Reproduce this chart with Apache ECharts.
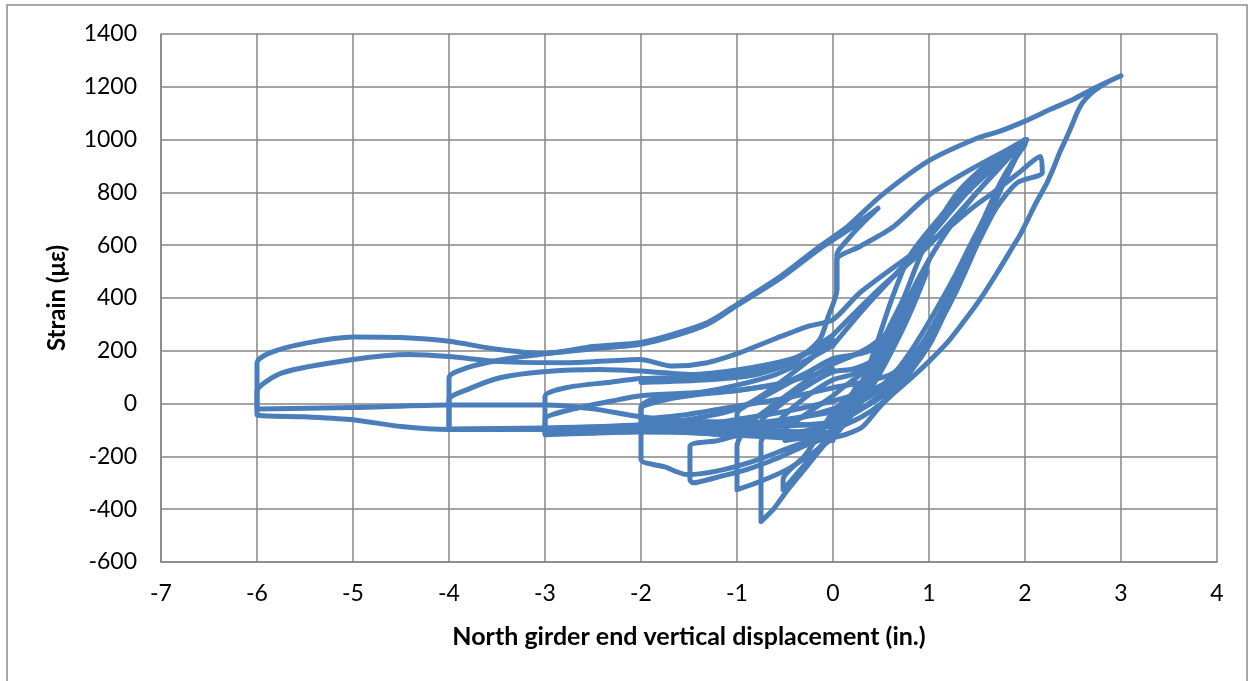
<!DOCTYPE html>
<html>
<head>
<meta charset="utf-8">
<script src="https://cdn.jsdelivr.net/npm/echarts@6/dist/echarts.min.js"></script>
<style>
html,body{margin:0;padding:0;background:#fff;}
#chart{width:1250px;height:681px;}
</style>
</head>
<body>
<div id="chart"></div>
<script>
// Axis ticks
const xTicks = [-7,-6,-5,-4,-3,-2,-1,0,1,2,3,4];
const yTicks = [-600,-400,-200,0,200,400,600,800,1000,1200,1400];

// Cycles: [displacement (in.), strain (με)]
const cyc025a = [[0,-95],[0.12,-40],[0.25,40],[0.2,10],[0.1,-30],[0,-60],[-0.12,-100],[-0.25,-150],[-0.15,-130],[0,-100]];
const cyc025b = [[0,-100],[0.1,-50],[0.25,70],[0.15,10],[0,-45],[-0.1,-90],[-0.25,-125],[-0.12,-115],[0,-105]];
const cyc050a = [[0,-100],[0.15,-30],[0.3,50],[0.45,140],[0.5,180],[0.42,130],[0.3,70],[0.15,20],[0,-30],[-0.15,-120],[-0.3,-200],[-0.52,-288],[-0.52,-326],[-0.35,-255],[-0.15,-170],[0,-110]];
const cyc050b = [[0,-110],[0.15,-40],[0.3,40],[0.5,200],[0.4,150],[0.25,100],[0.1,60],[0,30],[-0.2,-20],[-0.4,-70],[-0.5,-100],[-0.5,-140],[-0.3,-130],[0,-115]];
const cyc075a = [[0,-110],[0.15,-30],[0.3,60],[0.45,150],[0.6,250],[0.75,356],[0.68,290],[0.55,210],[0.4,150],[0.2,110],[0,90],[-0.3,20],[-0.55,-60],[-0.75,-148],[-0.75,-447],[-0.62,-400],[-0.5,-340],[-0.3,-250],[-0.1,-160],[0,-120]];
const cyc075b = [[0,-120],[0.2,-20],[0.4,110],[0.6,240],[0.75,340],[0.6,230],[0.4,160],[0.2,130],[0,120],[-0.3,60],[-0.6,-20],[-0.75,-70],[-0.75,-120],[-0.5,-125],[-0.2,-120],[0,-110]];
const cyc100a = [[0,-120],[0.2,-20],[0.4,90],[0.6,220],[0.8,370],[1.0,545],[0.93,470],[0.8,380],[0.6,280],[0.4,220],[0.2,180],[0,150],[-0.3,80],[-0.6,0],[-0.85,-70],[-1.0,-162],[-1.0,-326],[-0.76,-295],[-0.48,-250],[-0.21,-186],[0,-130]];
const cyc100b = [[0,-130],[0.2,-40],[0.4,60],[0.6,190],[0.8,340],[0.98,500],[0.88,410],[0.75,310],[0.55,230],[0.3,190],[0,170],[-0.3,110],[-0.7,30],[-1.0,-40],[-1.0,-110],[-0.7,-120],[-0.3,-115],[0,-110]];
const cycP2N15 = [[0,-110],[0.3,80],[0.6,300],[0.73,394],[0.96,600],[1.3,800],[1.65,920],[2,1000],[1.8,860],[1.6,720],[1.43,600],[1.25,470],[1.05,340],[0.85,220],[0.65,120],[0.45,50],[0.25,10],[0,-20],[-0.4,-60],[-0.8,-100],[-1.2,-140],[-1.49,-162],[-1.49,-288],[-1.46,-300],[-1.2,-278],[-0.9,-250],[-0.6,-210],[-0.3,-160],[0,-120]];
const cycP2N2a = [[0,-120],[0.35,120],[0.61,394],[0.8,560],[1.1,700],[1.5,860],[2,985],[1.9,930],[1.77,830],[1.6,690],[1.45,560],[1.29,430],[1.1,300],[0.9,190],[0.7,110],[0.45,60],[0.2,30],[0,10],[-0.5,-30],[-1.0,-60],[-1.5,-90],[-2,-110],[-2,-212],[-1.75,-240],[-1.52,-269],[-1.2,-255],[-0.8,-215],[-0.4,-160],[0,-115]];
const cycP2N2b = [[0,-115],[0.3,40],[0.6,260],[0.9,480],[1.2,660],[1.5,800],[1.75,900],[2,1000],[1.85,900],[1.7,790],[1.55,660],[1.4,530],[1.2,380],[1.0,260],[0.8,170],[0.6,110],[0.3,80],[0,60],[-0.5,20],[-1,-10],[-1.5,-40],[-2,-60],[-2,-11],[-1.83,23],[-1.39,42],[-1,70],[-0.6,110],[-0.3,160],[0,220]];
const cycP2N3 = [[0,220],[0.3,350],[0.6,470],[1.0,630],[1.4,800],[1.7,900],[2,980],[1.88,920],[1.75,840],[1.62,740],[1.5,640],[1.35,520],[1.2,400],[1.0,270],[0.8,160],[0.55,70],[0.3,10],[0,-30],[-0.5,-60],[-1,-80],[-1.5,-85],[-2,-90],[-2.5,-95],[-3,-98],[-3,27],[-2.77,61],[-2.35,80],[-2,95],[-1.5,100],[-1,110],[-0.6,140],[-0.3,190],[0,260]];
const cycP2N4a = [[0,260],[0.5,440],[1.0,600],[1.5,800],[2,1000],[1.85,890],[1.68,760],[1.5,620],[1.3,470],[1.1,330],[0.9,200],[0.7,100],[0.45,20],[0.2,-40],[0,-70],[-0.5,-85],[-1,-90],[-2,-95],[-3,-97],[-4,-98],[-4,15],[-3.81,53],[-3.47,98],[-3.02,121],[-2.43,129],[-1.9,121],[-1.49,110],[-0.97,129],[-0.45,167],[-0.1,216],[0,240]];
const cycP05N4b = [[0,240],[-0.3,150],[-0.7,40],[-1,-20],[-1.5,-60],[-2,-80],[-3,-92],[-4,-96],[-4,98],[-3.81,136],[-3.47,165],[-3.02,188],[-2.5,208],[-2,225],[-1.6,262],[-1.3,302],[-1,372],[-0.55,474],[-0.14,586],[0.15,656],[0.47,740],[0.3,680],[0.15,620],[0.04,565],[0.04,430],[-0.05,330],[-0.14,242],[-0.4,160],[-0.8,110],[-1.3,90],[-2,80]];
const cycP3N6a = [[0,-110],[-1,-100],[-2,-95],[-3,-97],[-4,-98],[-4.5,-87],[-5,-61],[-5.5,-50],[-6,-42],[-6,155],[-5.86,193],[-5.5,228],[-5,252],[-4.5,250],[-4,236],[-3.5,206],[-3,190],[-2.5,216],[-2,232],[-1.67,262],[-1.3,308],[-0.97,383],[-0.55,481],[-0.14,595],[0.15,670],[0.49,784],[1.0,920],[1.5,1005],[1.74,1032],[2,1070],[2.26,1114],[2.5,1152],[2.71,1193],[3,1242],[2.88,1222],[2.78,1200],[2.68,1172],[2.6,1140],[2.54,1100],[2.49,1055],[2.43,1005],[2.36,950],[2.3,895],[2.23,837],[2.16,790],[2.1,750],[2.02,690],[1.95,640],[1.875,595],[1.7,490],[1.53,394],[1.35,305],[1.19,231],[1.0,160],[0.83,102],[0.65,45],[0.49,-11],[0.31,-87],[0.15,-115],[0,-130]];
const cycP22N6b = [[0,-130],[-0.5,-110],[-1,-85],[-2,-50],[-2.5,-20],[-3,-5],[-4,-5],[-5,-15],[-6,-20],[-6,46],[-5.73,117],[-5,167],[-4.41,186],[-4,178],[-3.47,159],[-2.74,155],[-2.01,167],[-1.67,142],[-1.31,155],[-0.97,193],[-0.63,242],[-0.27,292],[0,318],[0.28,420],[0.8,560],[1.15,650],[1.43,735],[1.67,800],[1.92,870],[2.16,936],[2.18,875],[1.92,837],[1.7,740],[1.5,600],[1.3,450],[1.1,300],[0.9,170],[0.7,70],[0.5,0],[0.3,-50],[0,-100]];
const cycP2N1 = [[0.04,430],[0.04,545],[0.28,595],[0.63,670],[0.98,784],[1.43,886],[2.02,1000],[1.9,930],[1.75,840],[1.6,720],[1.45,580],[1.3,450],[1.15,330],[1.0,220],[0.8,120],[0.6,50],[0.3,-20],[0,-80],[-0.4,-110],[-0.8,-120],[-1.2,-115],[-1.6,-105],[-2.0,-100],[-2.5,-105],[-3,-110]];
const cycBand = [[0,-90],[-0.5,-75],[-1,-70],[-1.5,-68],[-2,-72],[-2,-20],[-1.8,10],[-1.5,30],[-1,50],[-0.5,80],[-0.2,110],[0,130]];
const cycBand2 = [[0,-140],[-0.5,-130],[-1,-120],[-1.5,-110],[-2,-108],[-2.5,-112],[-3,-118],[-3,-60],[-2.7,-20],[-2.3,10],[-2,30],[-1.5,40],[-1,50],[-0.5,80],[0,170]];

const cycles = [cyc025a, cyc025b, cyc050a, cyc050b, cyc075a, cyc075b, cyc100a, cyc100b, cycP2N15, cycP2N2a, cycP2N2b, cycP2N3, cycP2N4a, cycP05N4b, cycP3N6a, cycP22N6b, cycP2N1, cycBand, cycBand2];

const chart = echarts.init(document.getElementById('chart'), null, {renderer: 'canvas'});
const lineColor = '#4a7ebb';
const gridColor = '#868686';
const fontFam = 'Lato, "Open Sans", sans-serif';

const option = {
  animation: false,
  backgroundColor: '#ffffff',
  graphic: [{
    type: 'rect',
    shape: {x: 7, y: 5, width: 1240, height: 700},
    style: {fill: 'none', stroke: '#8c8c8c', lineWidth: 1.5},
    silent: true
  }],
  grid: {left: 161, right: 33, top: 34, bottom: 119, containLabel: false},
  xAxis: {
    type: 'value', min: xTicks[0], max: xTicks[xTicks.length-1], interval: 1,
    name: 'North girder end vertical displacement (in.)',
    nameLocation: 'middle', nameGap: 62,
    nameTextStyle: {fontFamily: fontFam, fontWeight: 'bold', fontSize: 25, color: '#000'},
    axisLine: {show: true, onZero: false, lineStyle: {color: gridColor, width: 1.5}},
    axisTick: {show: false},
    axisLabel: {fontFamily: fontFam, fontSize: 23, color: '#000', margin: 20, formatter: v => String(v)},
    splitLine: {show: true, lineStyle: {color: gridColor, width: 1.5}}
  },
  yAxis: {
    type: 'value', min: yTicks[0], max: yTicks[yTicks.length-1], interval: 200,
    name: 'Strain (με)',
    nameLocation: 'middle', nameGap: 92, nameRotate: 90,
    nameTextStyle: {fontFamily: fontFam, fontWeight: 'bold', fontSize: 24, color: '#000'},
    axisLine: {show: true, onZero: false, lineStyle: {color: gridColor, width: 1.5}},
    axisTick: {show: false},
    axisLabel: {fontFamily: fontFam, fontSize: 23, color: '#000', margin: 24, formatter: v => String(v)},
    splitLine: {show: true, lineStyle: {color: gridColor, width: 1.5}}
  },
  series: cycles.map(c => ({
    type: 'line', data: c, showSymbol: false, smooth: 0.25, silent: true,
    lineStyle: {color: lineColor, width: 5, cap: 'round', join: 'round'}
  }))
};
chart.setOption(option);
</script>
</body>
</html>
